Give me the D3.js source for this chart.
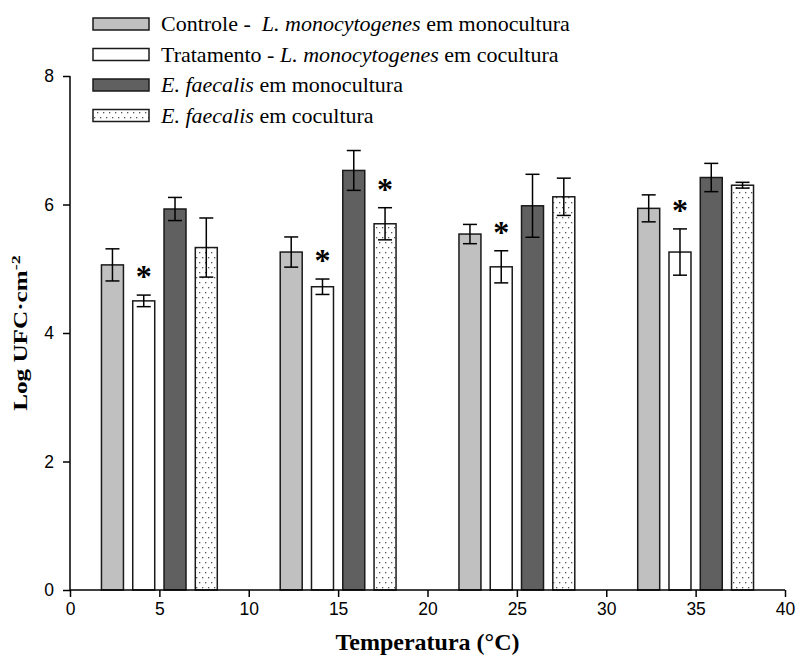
<!DOCTYPE html>
<html>
<head>
<meta charset="utf-8">
<script src="https://cdn.jsdelivr.net/npm/d3@7"></script>
<style>
  html, body { margin: 0; padding: 0; background: #fff; }
  svg { display: block; }
</style>
</head>
<body>
<svg id="chart" width="796" height="663"></svg>
<script>
// Temperatures (°C) and log counts per series
const temperatures = [5, 15, 25, 35];
const seriesNames = [
  "Controle - L. monocytogenes em monocultura",
  "Tratamento - L. monocytogenes em cocultura",
  "E. faecalis em monocultura",
  "E. faecalis em cocultura"
];
const controleMono = [5.06, 5.26, 5.54, 5.94];
const controleMonoErr = [0.25, 0.235, 0.15, 0.21];
const tratamentoCo = [4.50, 4.72, 5.03, 5.26];
const tratamentoCoErr = [0.09, 0.12, 0.25, 0.36];
const faecalisMono = [5.93, 6.53, 5.98, 6.42];
const faecalisMonoErr = [0.18, 0.31, 0.49, 0.22];
const faecalisCo = [5.33, 5.70, 6.12, 6.30];
const faecalisCoErr = [0.46, 0.25, 0.29, 0.045];
// significance marks (*) per series and temperature
const signifTratamento = [true, true, true, true];
const signifFaecalisCo = [false, true, false, false];
const xTicks = [0, 5, 10, 15, 20, 25, 30, 35, 40];
const yTicks = [0, 2, 4, 6, 8];

const SERIF = "Liberation Serif";
const SANS = "Liberation Sans";

const svg = d3.select("#chart");
const x = d3.scaleLinear().domain([0, 40]).range([70, 785]);
const y = d3.scaleLinear().domain([0, 8]).range([590, 76]);

// dotted fill
const defs = svg.append("defs");
const pat = defs.append("pattern")
  .attr("id", "dots").attr("patternUnits", "userSpaceOnUse")
  .attr("width", 6).attr("height", 10);
pat.append("rect").attr("width", 6).attr("height", 10).attr("fill", "#fff");
pat.append("rect").attr("x", 1).attr("y", 2).attr("width", 1.3).attr("height", 1.3).attr("fill", "#555");
pat.append("rect").attr("x", 4).attr("y", 7).attr("width", 1.3).attr("height", 1.3).attr("fill", "#555");

const series = [
  { name: seriesNames[0], values: controleMono, err: controleMonoErr, fill: "#c0c0c0", sig: null },
  { name: seriesNames[1], values: tratamentoCo, err: tratamentoCoErr, fill: "#ffffff", sig: signifTratamento },
  { name: seriesNames[2], values: faecalisMono, err: faecalisMonoErr, fill: "#606060", sig: null },
  { name: seriesNames[3], values: faecalisCo, err: faecalisCoErr, fill: "url(#dots)", sig: signifFaecalisCo }
];

// bar placement within each temperature group (in °C units)
const offsets = [-2.625, -0.875, 0.875, 2.625];
const barW = 1.23;
const barPx = x(barW) - x(0);

// axes
const xAxis = d3.axisBottom(x).tickValues(xTicks).tickSize(7).tickPadding(6);
const yAxis = d3.axisLeft(y).tickValues(yTicks).tickSize(7).tickPadding(9);

const gBars = svg.append("g");
series.forEach((s, si) => {
  const g = gBars.append("g");
  g.selectAll("rect").data(temperatures).join("rect")
    .attr("x", (t) => x(t + offsets[si]) - barPx / 2)
    .attr("width", barPx)
    .attr("y", (t, i) => y(s.values[i]))
    .attr("height", (t, i) => y(0) - y(s.values[i]))
    .attr("fill", s.fill)
    .attr("stroke", "#1a1a1a")
    .attr("stroke-width", 1.5);
});

// error bars and significance asterisks
const capW = 14;
series.forEach((s, si) => {
  const g = gBars.append("g").attr("stroke", "#000").attr("stroke-width", 1.5);
  temperatures.forEach((t, i) => {
    const cx = x(t + offsets[si]);
    const top = y(s.values[i] + s.err[i]);
    const bot = y(s.values[i] - s.err[i]);
    g.append("line").attr("x1", cx).attr("x2", cx).attr("y1", top).attr("y2", bot);
    g.append("line").attr("x1", cx - capW / 2).attr("x2", cx + capW / 2).attr("y1", top).attr("y2", top);
    g.append("line").attr("x1", cx - capW / 2).attr("x2", cx + capW / 2).attr("y1", bot).attr("y2", bot);
    if (s.sig && s.sig[i]) {
      svg.append("text")
        .attr("x", cx)
        .attr("y", top - 8)
        .attr("text-anchor", "middle")
        .attr("font-family", SERIF)
        .attr("font-weight", "bold")
        .attr("font-size", 32)
        .attr("fill", "#000")
        .text("*");
    }
  });
});

const gx = svg.append("g").attr("transform", `translate(0,${y(0)})`).call(xAxis);
const gy = svg.append("g").attr("transform", `translate(${x(0)},0)`).call(yAxis);
[gx, gy].forEach(g => {
  g.attr("font-family", SANS).attr("font-size", 17.5);
  g.select(".domain").attr("stroke", "#000").attr("stroke-width", 1.5);
  g.selectAll(".tick line").attr("stroke", "#000").attr("stroke-width", 1.5);
  g.selectAll(".tick text").attr("fill", "#000");
});
// plain axis lines without end hooks
gx.select(".domain").attr("d", `M${x(0)},0H${x(40)}`);
gy.select(".domain").attr("d", `M0,${y(0)}V${y(8)}`);

// axis titles
svg.append("text")
  .attr("x", (x(0) + x(40)) / 2)
  .attr("y", 650)
  .attr("text-anchor", "middle")
  .attr("font-family", SERIF)
  .attr("font-weight", "bold")
  .attr("font-size", 24)
  .text("Temperatura (°C)");

const yTitle = svg.append("text")
  .attr("transform", `translate(27,${y(4)}) rotate(-90) scale(1.4,1)`)
  .attr("text-anchor", "middle")
  .attr("font-family", SERIF)
  .attr("font-weight", "bold")
  .attr("font-size", 18);
yTitle.append("tspan").text("Log UFC·cm");
yTitle.append("tspan").attr("dy", -7).attr("font-size", 13).text("-2");

// legend: each run of text drawn on its own, placed after the previous one
const legendParts = [
  [["Controle -", false, 0], ["L. monocytogenes", true, 12], ["em monocultura", false, 6]],
  [["Tratamento -", false, 0], ["L. monocytogenes", true, 6], ["em cocultura", false, 6]],
  [["E. faecalis", true, 0], ["em monocultura", false, 6]],
  [["E. faecalis", true, 0], ["em cocultura", false, 6]]
];
const legendScale = 22 / 24;
const legend = svg.append("g");
series.forEach((s, i) => {
  const cy = 24 + i * 30.5;
  legend.append("rect")
    .attr("x", 93).attr("y", cy - 6).attr("width", 56).attr("height", 12)
    .attr("fill", s.fill).attr("stroke", "#1a1a1a").attr("stroke-width", 1.5);
  const row = legend.append("g")
    .attr("transform", `translate(161,${cy + 7}) scale(${legendScale})`);
  let cursor = 0;
  legendParts[i].forEach(([txt, it, gap]) => {
    cursor += gap;
    const t = row.append("text")
      .attr("x", cursor).attr("y", 0)
      .attr("font-family", SERIF)
      .attr("font-size", 24)
      .text(txt);
    if (it) t.attr("font-style", "italic");
    cursor += t.node().getComputedTextLength();
  });
});
</script>
</body>
</html>
